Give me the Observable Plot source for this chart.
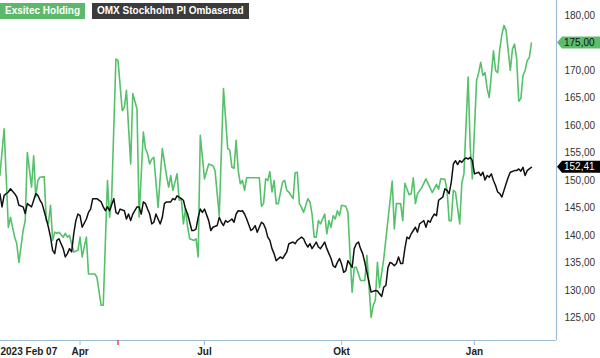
<!DOCTYPE html>
<html><head><meta charset="utf-8">
<script src="https://cdn.jsdelivr.net/npm/d3@7"></script>
<script src="https://cdn.jsdelivr.net/npm/@observablehq/plot@0.6"></script>
<style>
body{margin:0;background:#fff;font-family:"Liberation Sans",Arial,sans-serif;}
#wrap{position:relative;width:600px;height:358px;}
.legend{position:absolute;top:3px;left:0;display:flex;}
.legend span{display:inline-block;color:#fff;font-weight:bold;font-size:10px;height:16px;line-height:16px;padding:0 5px;margin-right:7px;}
</style></head><body>
<div id="wrap">
  <div class="legend"><span id="lg0"></span><span id="lg1"></span></div>
</div>
<script>
// Series names
const seriesNames = ["Exsitec Holding", "OMX Stockholm PI Ombaserad"];
// x = trading day index (day 1 = 2023 Feb 07)
const greenDay = [1,3,5,6,8,9,10,12,13,14,16,17,18,19,20,22,23,24,25,26,27,28,29,31,32,33,34,36,38,39,40,42,43,46,47,49,50,52,53,54,56,57,59,60,61,62,63,64,66,67,69,70,71,72,73,74,76,78,80,81,82,83,85,86,87,88,89,90,91,93,94,95,96,98,100,102,103,105,107,109,110,111,112,113,114,115,116,117,118,124,125,126,127,128,129,130,131,132,133,135,136,137,138,139,140,141,142,143,144,145,147,148,149,150,151,152,153,155,156,157,158,159,160,161,162,163,165,166,167,168,169,170,172,174,175,177,178,179,180,181,183,187,188,189,191,192,193,195,196,197,198,199,201,203,206,208,209,210,212,213,214,215,216,217,219,220,221,223,224,225,227,228,229,230,231,232,233,234,235,236,237,238,239,240,241,243,244,245,246,247,248,249,250,251,252,253];
const greenValue = [150.9,159.4,141.5,143.3,139.7,138.5,135.1,140.9,142.7,155.1,148.8,154.5,147.0,150.0,150.6,150.7,142.7,142.2,145.5,139.1,140.6,140.4,140.6,139.7,140.4,139.7,140.0,137.0,137.3,139.7,136.1,139.7,133.0,133.0,132.4,127.3,127.3,150.0,143.3,147.0,172.1,171.8,162.7,163.3,166.4,159.7,153.0,165.8,163.0,143.3,158.8,155.8,154.9,153.0,153.9,154.2,145.1,155.8,150.9,148.8,150.9,148.2,151.2,146.4,146.7,142.1,144.9,141.5,139.4,139.1,139.4,136.1,158.2,150.3,153.0,152.7,151.8,143.6,166.7,155.8,155.5,152.4,152.2,157.3,151.8,149.4,150.0,148.2,150.5,150.5,145.3,145.8,150.3,150.0,151.6,147.9,150.0,145.8,145.8,149.7,150.0,148.2,147.9,147.3,146.7,151.4,151.5,145.8,145.1,144.2,146.7,146.1,143.9,139.7,139.7,142.7,142.1,143.9,140.3,142.7,141.5,143.6,143.0,144.5,143.6,145.5,145.3,144.2,136.7,129.7,134.2,134.2,131.8,131.8,136.4,125.1,127.3,128.2,135.1,130.5,135.8,149.9,141.2,145.8,145.8,142.7,149.5,147.4,147.6,150.5,145.8,147.6,148.7,150.3,147.8,149.3,148.4,150.3,150.2,148.2,142.7,142.7,148.2,147.9,142.1,149.5,151.2,168.8,156.0,150.3,168.2,169.6,171.5,169.1,169.6,166.7,165.1,169.1,173.6,170.0,169.6,173.9,176.5,178.2,177.3,170.0,173.9,174.8,172.2,164.4,164.9,169.1,170.0,171.8,172.3,175.0];
const blackDay = [1,2,3,5,6,8,9,10,12,13,14,16,18,19,20,21,23,24,25,26,27,28,29,30,31,32,33,34,35,36,37,38,39,40,42,43,44,45,47,49,50,51,52,53,55,56,57,58,60,61,62,63,64,66,67,68,69,70,71,72,73,74,75,76,77,78,79,80,82,83,84,85,87,88,89,90,91,92,93,94,95,96,97,98,100,101,102,104,105,106,107,108,109,111,112,113,114,115,116,117,118,120,121,122,123,124,125,126,127,128,129,130,131,132,134,135,136,137,138,140,141,142,143,144,145,146,147,148,149,150,151,152,153,154,155,156,157,158,159,160,161,162,163,164,165,166,168,169,170,171,172,173,174,175,176,177,179,180,181,182,183,184,185,186,187,188,189,190,191,192,193,194,195,196,197,198,199,200,201,202,203,204,205,206,207,208,209,210,211,212,213,214,215,216,217,218,219,220,221,222,223,224,225,226,228,229,230,231,232,233,234,235,236,237,238,239,240,241,242,243,245,246,247,248,249,250,251,252,253];
const blackValue = [147.6,145.2,147.3,147.9,148.5,147.6,147.0,145.5,145.2,144.0,145.8,145.2,147.6,147.3,146.4,145.8,143.0,141.5,139.7,137.3,136.7,139.1,139.4,138.5,137.6,136.1,136.7,137.6,137.0,140.3,142.7,143.9,143.6,141.5,143.0,144.2,144.8,146.7,146.7,146.1,145.2,144.5,145.2,144.5,146.7,144.2,143.9,144.8,144.5,143.0,143.9,142.7,143.9,145.2,145.2,143.9,146.1,145.8,144.8,143.9,142.1,142.4,143.9,143.0,142.1,143.3,145.8,146.1,146.1,146.7,146.5,147.2,146.7,146.4,144.8,143.9,142.4,140.9,140.9,141.2,143.3,144.8,144.2,144.8,142.7,140.9,141.5,141.8,143.3,142.4,141.8,142.7,142.4,143.0,142.4,143.9,144.5,144.4,144.5,143.9,143.0,140.9,141.2,141.8,140.6,141.5,142.4,142.1,141.2,139.7,139.1,137.6,136.7,135.4,136.1,135.8,136.4,137.0,138.5,138.8,138.5,139.1,139.4,139.7,139.4,138.5,137.9,138.5,137.6,138.2,138.8,137.9,137.6,138.2,138.8,137.6,136.7,135.8,134.5,134.2,135.1,135.8,134.8,133.3,133.6,135.4,134.2,137.6,138.5,138.8,137.6,136.7,135.1,133.3,131.5,129.7,130.0,129.9,129.4,128.9,130.6,130.9,134.2,135.1,134.9,134.5,134.9,136.1,134.9,134.9,137.6,139.7,139.4,140.3,140.9,141.5,140.6,142.1,142.4,142.7,141.5,142.7,142.4,143.3,143.9,143.6,146.4,146.7,147.0,148.5,148.2,147.6,149.7,153.0,153.6,152.9,153.6,153.3,153.8,154.1,153.9,154.2,153.6,151.2,151.5,150.9,151.5,150.1,150.9,150.6,151.2,150.0,149.1,147.9,147.6,147.0,148.2,149.4,150.6,151.5,151.8,151.8,152.1,151.7,152.4,150.9,151.8,152.1,152.41];
// Axis ticks
const yTicks = [125,130,135,140,145,150,155,160,165,170,175,180];
const monthTickDays = [39, 98, 163, 226];
const monthLabels = ["Apr", "Jul", "Okt", "Jan"];
const startLabel = "2023 Feb 07";
const markerDay = [57];
const xDomain = [1.28, 264.9];
const yDomain = [120.9, 182.73];

const green = "#56c16a", black = "#111111", axisColor = "#9dbdd6";
const greenData = greenDay.map((d, i) => ({day: d, value: greenValue[i]}));
const blackData = blackDay.map((d, i) => ({day: d, value: blackValue[i]}));
const fmt = v => d3.format(".2f")(v).replace(".", ",");
const monthLabelOf = new Map(monthTickDays.map((d, i) => [d, monthLabels[i]]));
// last values shown as tags; a tick label hidden under a tag is not drawn
const lastValues = [greenValue[greenValue.length - 1], blackValue[blackValue.length - 1]];
const shownTicks = yTicks.filter(t => lastValues.every(v => Math.abs(t - v) > 1.2));

document.getElementById("lg0").textContent = seriesNames[0];
document.getElementById("lg0").style.background = "#5cb96c";
document.getElementById("lg1").textContent = seriesNames[1];
document.getElementById("lg1").style.background = "#3b3b3b";

function tag(data, bg, fg) {
  return (index, scales, values, dim) => {
    const last = data[data.length - 1];
    const y = scales.y(last.value);
    const x0 = dim.width - dim.marginRight;
    const g = d3.create("svg:g");
    g.append("path")
      .attr("d", `M${x0 + 1},${y} L${x0 + 6},${y - 6} H${dim.width} V${y + 6} H${x0 + 6} Z`)
      .attr("fill", bg);
    g.append("text").attr("x", x0 + 8).attr("y", y).attr("dy", "0.36em")
      .attr("text-anchor", "start")
      .attr("fill", fg).attr("font-size", 10).text(fmt(last.value));
    return g.node();
  };
}

const chart = Plot.plot({
  width: 600, height: 358,
  marginLeft: 0, marginRight: 44, marginTop: 0, marginBottom: 18,
  x: {domain: xDomain},
  y: {domain: yDomain},
  style: {fontFamily: "'Liberation Sans', Arial, sans-serif", fontSize: "10px", background: "#fff", overflow: "visible"},
  marks: [
    Plot.ruleY([yDomain[0]], {stroke: axisColor, strokeWidth: 1.2}),
    Plot.ruleX([xDomain[1]], {stroke: axisColor, strokeWidth: 1.2}),
    Plot.axisY({anchor: "right", ticks: shownTicks, tickSize: 0, tickPadding: 8, tickFormat: fmt, label: null, fill: "#333"}),
    Plot.axisX({ticks: monthTickDays, tickSize: 5, tickPadding: 2, tickFormat: d => monthLabelOf.get(d), label: null, stroke: axisColor, fill: "#222", fontWeight: "bold"}),
    Plot.axisX({ticks: markerDay, tickSize: 5, tickFormat: () => "", label: null, stroke: "#f0505a", strokeWidth: 1.6}),
    Plot.axisX({ticks: [xDomain[0]], tickSize: 0, tickPadding: 7, tickFormat: () => startLabel, label: null, textAnchor: "start", fill: "#222", fontWeight: "bold"}),
    Plot.line(greenData, {x: "day", y: "value", stroke: green, strokeWidth: 1.6, clip: true}),
    Plot.line(blackData, {x: "day", y: "value", stroke: black, strokeWidth: 1.5, clip: true}),
    tag(greenData, "#5cbd6c", "#111"),
    tag(blackData, "#000", "#fff")
  ]
});
document.getElementById("wrap").prepend(chart);
</script>
</body></html>
